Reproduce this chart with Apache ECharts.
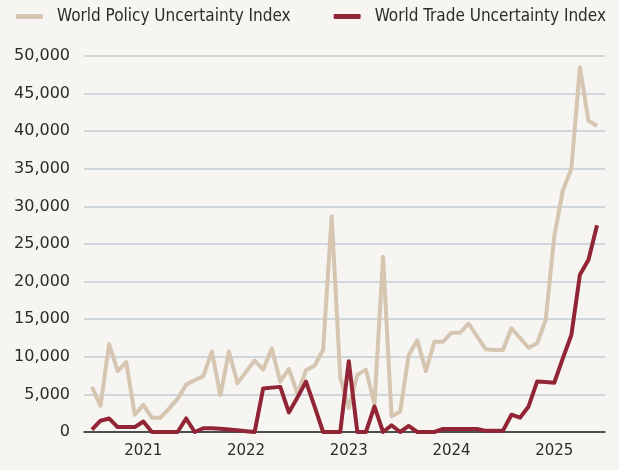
<!DOCTYPE html>
<html>
<head>
<meta charset="utf-8">
<script src="https://cdn.jsdelivr.net/npm/echarts@6/dist/echarts.min.js"></script>
<style>
html,body{margin:0;padding:0;background:#f6f5f1;}
#chart{width:619px;height:470px;}
</style>
</head>
<body>
<div id="chart"></div>
<script>
// Monthly, July 2020 – June 2025
const months = [];
for (let y = 2020; y <= 2025; y++) {
  for (let m = 1; m <= 12; m++) {
    if ((y === 2020 && m < 7) || (y === 2025 && m > 6)) continue;
    months.push(y + '-' + String(m).padStart(2, '0'));
  }
}
const policyName = 'World Policy Uncertainty Index';
const tradeName = 'World Trade Uncertainty Index';
const policyValues = [
  6000, 3500, 11700, 8100, 9300, 2300, 3600, 1900, 1900, 3100,
  4400, 6300, 6900, 7400, 10700, 4900, 10700, 6500, 8000, 9500,
  8300, 11100, 6700, 8400, 5100, 8200, 8800, 10900, 28700, 7300,
  3200, 7600, 8300, 3700, 23300, 2100, 2700, 10200, 12200, 8100,
  12000, 12000, 13200, 13200, 14400, 12700, 11000, 10900, 10900, 13800,
  12500, 11200, 11800, 14900, 26000, 32100, 35000, 48500, 41400, 40700
];
const tradeValues = [
  300, 1500, 1800, 650, 650, 650, 1400, 0, 0, 0,
  0, 1800, 0, 500, 500, 420, 320, 220, 110, 0,
  5800, 5900, 6000, 2600, 4600, 6700, 3400, 0, 0, 0,
  9400, 0, 0, 3400, 0, 900, 0, 800, 0, 0,
  0, 400, 400, 400, 400, 400, 150, 150, 150, 2300,
  1900, 3400, 6700, 6650, 6550, 9800, 12900, 20900, 22900, 27500
];
const yTicks = [0, 5000, 10000, 15000, 20000, 25000, 30000, 35000, 40000, 45000, 50000];
const yearLabelMonths = ['2021-01', '2022-01', '2023-01', '2024-01', '2025-01'];

const labelIdx = yearLabelMonths.map(m => months.indexOf(m));
const FONT_C = "'DejaVu Sans Condensed', 'DejaVu Sans', Roboto, sans-serif";
const FONT = "'DejaVu Sans', Roboto, sans-serif";

const chart = echarts.init(document.getElementById('chart'), null, {renderer: 'canvas'});
chart.setOption({
  backgroundColor: '#f6f5f1',
  animation: false,
  legend: {
    top: 3, left: 11,
    itemWidth: 27, itemHeight: 5, itemGap: 43,
    icon: 'roundRect',
    textStyle: {fontFamily: FONT_C, fontSize: 17, color: '#2b2b2b', padding: [0, 0, 0, 9]},
    data: [policyName, tradeName]
  },
  grid: {left: 84, right: 14, top: 56, bottom: 38, containLabel: false},
  xAxis: {
    type: 'value',
    min: -0.93, max: months.length - 1 + 0.93,
    axisLine: {show: true, onZero: false, lineStyle: {color: '#222', width: 1.5}},
    axisTick: {show: false},
    splitLine: {show: false},
    axisLabel: {
      customValues: labelIdx,
      formatter: v => months[Math.round(v)].slice(0, 4),
      fontFamily: FONT, fontSize: 15, color: '#2b2b2b', margin: 12
    }
  },
  yAxis: {
    type: 'value',
    min: yTicks[0], max: yTicks[yTicks.length - 1], interval: 5000,
    axisLine: {show: false},
    axisTick: {show: false},
    splitLine: {lineStyle: {color: '#c3ccd4', width: 1.5}},
    axisLabel: {
      formatter: v => v.toLocaleString('en-US'),
      fontFamily: FONT, fontSize: 16, color: '#2b2b2b', margin: 14
    }
  },
  series: [
    {
      name: policyName, type: 'line', symbol: 'none',
      data: policyValues.map((v, i) => [i, v]),
      lineStyle: {color: '#d5c5b1', width: 4, join: 'round'},
      itemStyle: {color: '#d5c5b1'},
      z: 2
    },
    {
      name: tradeName, type: 'line', symbol: 'none',
      data: tradeValues.map((v, i) => [i, v]),
      lineStyle: {color: '#922535', width: 4, join: 'round'},
      itemStyle: {color: '#922535'},
      z: 3
    }
  ]
});
</script>
</body>
</html>
